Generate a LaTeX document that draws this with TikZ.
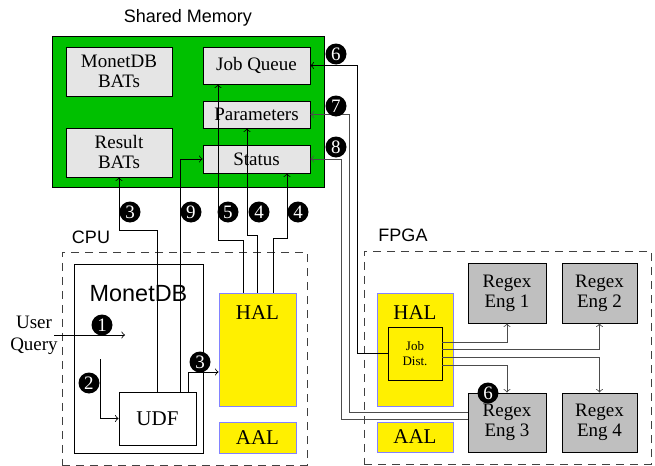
\documentclass[tikz,border=0pt]{standalone}
\usepackage{fontspec}
\setmainfont{Liberation Serif}
\setsansfont{Liberation Sans}
\usetikzlibrary{calc}
\definecolor{memgreen}{RGB}{0,192,0}
\definecolor{halyellow}{RGB}{255,240,0}
\definecolor{halblue}{RGB}{130,130,255}

\begin{document}
\begin{tikzpicture}[x=0.5pt,y=-0.5pt,
    box/.style={draw,rectangle,inner sep=0pt,align=center,font=\fontsize{9.5}{10}\selectfont},
    membox/.style={box,fill=gray!20,minimum width=53pt},
    layer/.style={box,draw=halblue,fill=halyellow,minimum width=38.5pt,font=\fontsize{10.5}{12}\selectfont},
    engine/.style={box,fill=gray!50,minimum width=39pt,minimum height=30pt},
    area/.style={draw=black!75,dash pattern=on 4pt off 3pt},
    title/.style={font=\sffamily\fontsize{9}{11}\selectfont},
    badge/.style={circle,fill=black,text=white,inner sep=0pt,minimum size=10.5pt,font=\fontsize{9.5}{10}\selectfont},
    wire/.style={->,black},
    greywire/.style={->,black!70}]
\useasboundingbox (0,0) rectangle (655,466);
% The shared memory block on top, with its five buffers
\node[title] (memtitle) at (188,18) {Shared Memory};
\node[draw,fill=memgreen,minimum width=136pt,minimum height=75.5pt] (mem) at (188,111.5) {};
\node[membox,minimum height=24.5pt] (monbats) at (119,71.5) {MonetDB\\BATs};
\node[membox,minimum height=24.5pt] (resbats) at (119,152.5) {Result\\BATs};
\node[membox,minimum width=53.5pt,minimum height=18.5pt] (jobq) at (256.5,65.5) {Job Queue};
\node[membox,minimum width=53.5pt,minimum height=13.5pt] (params) at (256.5,114.5) {Parameters};
\node[membox,minimum width=53.5pt,minimum height=14pt] (status) at (256.5,159) {Status};

% CPU side: MonetDB with its UDF, and the HAL/AAL layers
\node[title] (cputitle) at (91,237) {CPU};
\node[area,minimum width=122.5pt,minimum height=106.5pt] (cpu) at (184.5,358.5) {};
\node[box,minimum width=64.5pt,minimum height=94.5pt,
      label={[anchor=north,yshift=-7.5pt,font=\sffamily\fontsize{11.7}{13}\selectfont]north:MonetDB}] (monetdb) at (138.5,358.5) {};
\node[box,fill=white,minimum width=38.5pt,minimum height=26.5pt,font=\fontsize{10.5}{12}\selectfont] (udf) at (157.5,418.5) {UDF};
\node[layer,minimum height=56.5pt,
      label={[anchor=north,yshift=-3pt,font=\fontsize{10.5}{12}\selectfont]north:HAL}] (halcpu) at (257.5,349.5) {};
\node[layer,minimum height=15.5pt] (aalcpu) at (257.5,437.5) {AAL};
\node[align=center,inner sep=0pt,font=\fontsize{9.5}{11}\selectfont] (user) at (34,335) {User\\Query};
\coordinate (plan) at (125,335);
\coordinate (call) at (100,359);

% FPGA side: HAL with the job distributor and four regex engines
\node[title] (fpgatitle) at (403,235) {FPGA};
\node[area,minimum width=143.5pt,minimum height=106.5pt] (fpga) at (507.5,357.5) {};
\node[layer,minimum width=38pt,minimum height=56.5pt,
      label={[anchor=north,yshift=-3pt,font=\fontsize{10.5}{12}\selectfont]north:HAL}] (halfpga) at (415,349.5) {};
\node[box,fill=halyellow,minimum width=27pt,minimum height=26.5pt,font=\fontsize{6.5}{7.5}\selectfont] (jobdist) at (415,353.5) {Job\\Dist.};
\node[layer,minimum width=38pt,minimum height=15pt] (aalfpga) at (415,437) {AAL};
\node[engine] (eng1) at (507,293) {Regex\\Eng 1};
\node[engine,minimum width=37.5pt] (eng2) at (599.5,293) {Regex\\Eng 2};
\node[engine,minimum height=29.5pt] (eng3) at (507,422.5) {Regex\\Eng 3};
\node[engine,minimum width=37.5pt,minimum height=29.5pt] (eng4) at (599.5,422.5) {Regex\\Eng 4};

% connectors on the CPU side
\draw[wire] ([xshift=-2pt]user.east) -- (plan);
\draw[wire] (call) |- (udf.west);
\draw[wire] ($(udf.north)+(30.5,0)$) |- ($(halcpu.west)+(0,22.5)$);
\draw[wire] (udf.north) -- ++(0,-161) -| (resbats.south);
\draw[wire] ($(udf.north)+(22.5,0)$) |- (status.west);
\draw[wire] ($(halcpu.north)+(-14.5,0)$) -- ++(0,-52) -| ($(jobq.south)+(-38.5,0)$);
\draw[wire] (halcpu.north) -- ++(0,-57) -| ($(params.south)+(-9.5,0)$);
\draw[wire] ($(halcpu.north)+(15.5,0)$) -- ++(0,-54) -| ($(status.south)+(30.5,0)$);

% connectors on the FPGA side
\draw[wire] (jobdist.west) -- ++(-30,0) |- (jobq.east);
\draw[greywire] ($(eng3.west)+(0,-10.5)$) -- ++(-118,0) |- (params.east);
\draw[greywire] ($(eng3.west)+(0,-3.5)$) -- ++(-126,0) |- (status.east);
\draw[greywire] ($(jobdist.east)+(0,-11.5)$) -| (eng1.south);
\draw[greywire] ($(jobdist.east)+(0,-4.5)$) -| (eng2.south);
\draw[greywire] ($(jobdist.east)+(0,3.5)$) -| (eng4.north);
\draw[greywire] ($(jobdist.east)+(0,11.5)$) -| (eng3.north);

% step numbers
\node[badge] (b1) at (102,325) {1};
\node[badge] (b2) at (89,383) {2};
\node[badge] (b3a) at (200,362) {3};
\node[badge] (b3b) at (130,212) {3};
\node[badge] (b9) at (191,212) {9};
\node[badge] (b5) at (228,212) {5};
\node[badge] (b4a) at (259,212) {4};
\node[badge] (b4b) at (298,212) {4};
\node[badge] (b6a) at (336,54) {6};
\node[badge] (b7) at (336,106) {7};
\node[badge] (b8) at (336,147) {8};
\node[badge] (b6b) at (488,393) {6};
\end{tikzpicture}
\end{document}
